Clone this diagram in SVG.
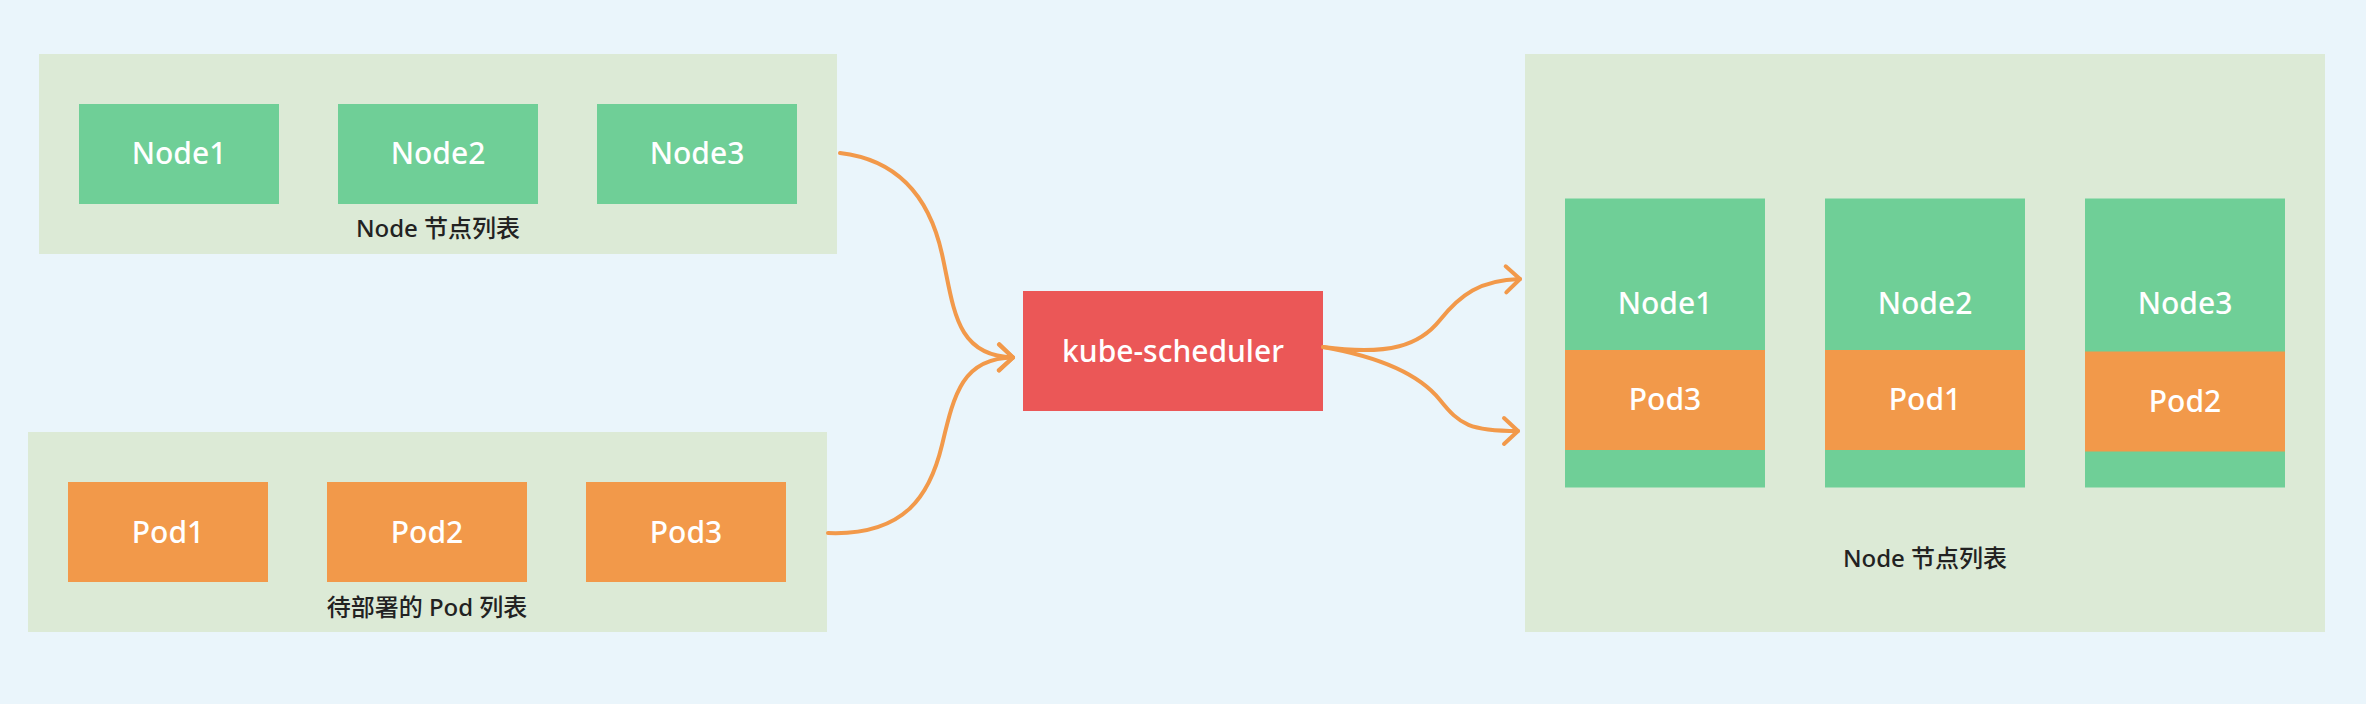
<svg xmlns="http://www.w3.org/2000/svg" width="2366" height="704" viewBox="0 0 2366 704">
<defs>
<style>
.bg{fill:#EAF5FB}
.panel{fill:#DCEAD6}
.green{fill:#6FCF97}
.orange{fill:#F2994A}
.red{fill:#EB5757}
.lbl{font-family:"Noto Sans","Noto Sans CJK SC",sans-serif;font-size:30px;font-weight:500;fill:#FFFFFF;text-anchor:middle}
.cap{font-family:"Noto Sans","Noto Sans CJK SC",sans-serif;font-size:24px;font-weight:500;fill:#222222;text-anchor:middle}
.conn{fill:none;stroke:#F2994A;stroke-width:4;stroke-linecap:round;marker-end:url(#arrow)}
</style>
<marker id="arrow" markerUnits="userSpaceOnUse" markerWidth="40" markerHeight="40" viewBox="-20 -20 40 40" refX="0" refY="0" orient="auto" overflow="visible">
<path d="M -14 -13 L 0 0 L -14 13" fill="none" stroke="#F2994A" stroke-width="4" stroke-linecap="round" stroke-linejoin="round"/>
</marker>
</defs>
<rect class="bg" x="0" y="0" width="2366" height="704"/>

<g id="node-list-left">
<rect class="panel" x="39" y="54" width="798" height="200"/>
<text class="cap" x="438" y="237">Node 节点列表</text>
</g>
<g id="left-node1"><rect class="green" x="79" y="104" width="200" height="100"/><text class="lbl" x="179" y="164">Node1</text></g>
<g id="left-node2"><rect class="green" x="338" y="104" width="200" height="100"/><text class="lbl" x="438" y="164">Node2</text></g>
<g id="left-node3"><rect class="green" x="597" y="104" width="200" height="100"/><text class="lbl" x="697" y="164">Node3</text></g>

<g id="pod-list">
<rect class="panel" x="28" y="432" width="799" height="200"/>
<text class="cap" x="427" y="616">待部署的 Pod 列表</text>
</g>
<g id="pod1"><rect class="orange" x="68" y="482" width="200" height="100"/><text class="lbl" x="168" y="542.5">Pod1</text></g>
<g id="pod2"><rect class="orange" x="327" y="482" width="200" height="100"/><text class="lbl" x="427" y="542.5">Pod2</text></g>
<g id="pod3"><rect class="orange" x="586" y="482" width="200" height="100"/><text class="lbl" x="686" y="542.5">Pod3</text></g>

<g id="kube-scheduler">
<rect class="red" x="1023" y="291" width="300" height="120"/>
<text class="lbl" x="1173" y="361.5">kube-scheduler</text>
</g>

<g id="node-list-right">
<rect class="panel" x="1525" y="54" width="800" height="578"/>
<text class="cap" x="1925" y="566.5">Node 节点列表</text>
</g>
<g id="right-node1">
<rect class="green" x="1565" y="198.5" width="200" height="289"/>
<text class="lbl" x="1665" y="313.5">Node1</text>
<rect class="orange" x="1565" y="350" width="200" height="100"/>
<text class="lbl" x="1665" y="410">Pod3</text>
</g>
<g id="right-node2">
<rect class="green" x="1825" y="198.5" width="200" height="289"/>
<text class="lbl" x="1925" y="313.5">Node2</text>
<rect class="orange" x="1825" y="350" width="200" height="100"/>
<text class="lbl" x="1925" y="410">Pod1</text>
</g>
<g id="right-node3">
<rect class="green" x="2085" y="198.5" width="200" height="289"/>
<text class="lbl" x="2185" y="313.5">Node3</text>
<rect class="orange" x="2085" y="351.5" width="200" height="100"/>
<text class="lbl" x="2185" y="411.5">Pod2</text>
</g>

<g id="connectors">
<path class="conn" d="M 840 153 C 900 160, 930 200, 942 254 S 955 356, 1013 357.5"/>
<path class="conn" d="M 828 533 C 905 536, 930 495, 942 445 S 962 358, 1013 357.5"/>
<path class="conn" d="M 1323 347 C 1390 356, 1420 345, 1440 320 S 1480 280, 1520 279"/>
<path class="conn" d="M 1323 347 C 1380 357, 1420 375, 1440 400 S 1470 431, 1518 431"/>
</g>
</svg>
